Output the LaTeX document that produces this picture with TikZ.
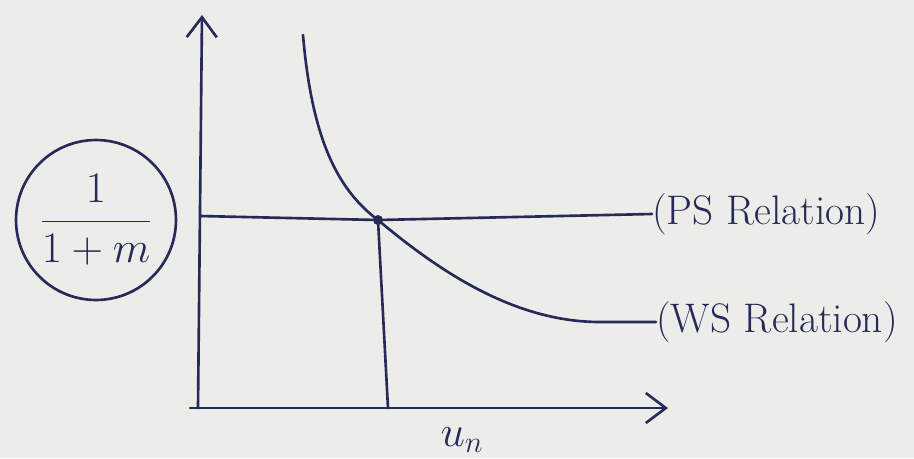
\documentclass[tikz,border=0pt]{standalone}
\usepackage{amsmath}
\usetikzlibrary{arrows.meta}
\definecolor{ink}{RGB}{38,42,88}
\definecolor{paper}{RGB}{236,236,233}
\tikzset{
  pen/.style={draw=ink, line width=1.5pt, line cap=round, line join=round},
  axis/.style={pen, -{Straight Barb[length=4mm,width=6mm]}},
  tag/.style={text=ink, font=\fontsize{23.5}{28}\selectfont, inner sep=0pt}
}
\begin{document}
\begin{tikzpicture}[x=0.02cm,y=-0.02cm]
\fill[paper] (0,0) rectangle (914,458);
\useasboundingbox (0,0) rectangle (914,458);
% axes
\coordinate (O) at (198,408);
\coordinate (ytop) at (202,15);
\coordinate (xend) at (668,408);
\draw[axis] (O) -- (ytop);
\draw[axis] (190,408) -- (xend);
\node[tag] (un) at (462,440) {$u_n$};
% labels
\node[pen, circle, minimum size=3.2cm, inner sep=0pt, text=ink] (ratio) at (96,220) {\fontsize{26}{30}\selectfont$\dfrac{1}{1+m}$};
\node[tag, anchor=west] (ps) at (652,214) {(PS Relation)};
\node[tag, anchor=west] (ws) at (656,322) {(WS Relation)};
% curves
\coordinate (E) at (378,220);
\coordinate (foot) at (388,408);
\coordinate (psstart) at (200,216);
\coordinate (wstop) at (303,35);
\draw[pen] (psstart) -- (E) -- (ps.west);
\draw[pen] (wstop) .. controls (312,140) and (338,190) .. (E)
  .. controls (440,272) and (515,322) .. (600,322) -- (ws.west);
\draw[pen] (E) -- (foot);
\fill[ink] (E) circle (5);
\end{tikzpicture}
\end{document}
